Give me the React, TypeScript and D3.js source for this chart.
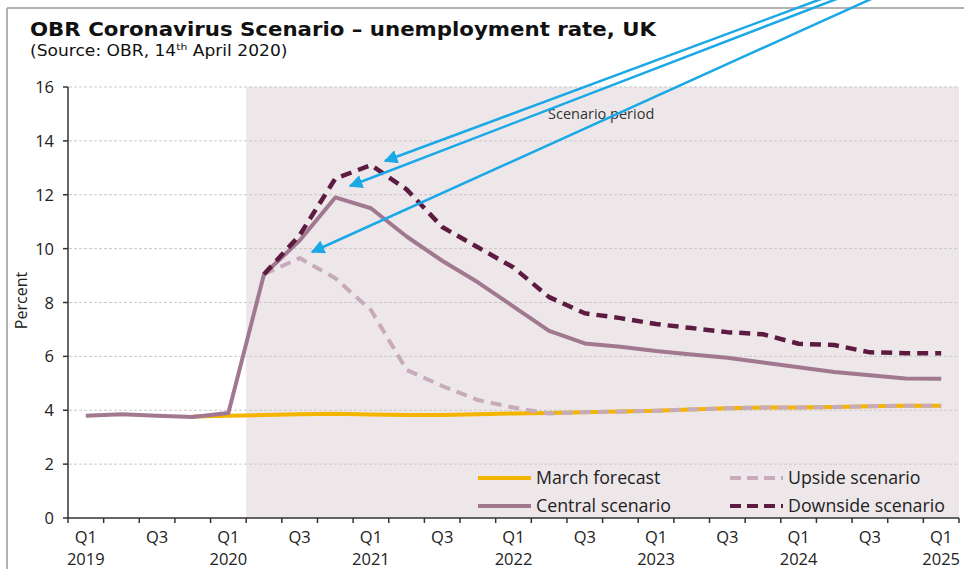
import React from "react";
import * as d3 from "d3";

const quarters = [
  "2019Q1","2019Q2","2019Q3","2019Q4",
  "2020Q1","2020Q2","2020Q3","2020Q4",
  "2021Q1","2021Q2","2021Q3","2021Q4",
  "2022Q1","2022Q2","2022Q3","2022Q4",
  "2023Q1","2023Q2","2023Q3","2023Q4",
  "2024Q1","2024Q2","2024Q3","2024Q4",
  "2025Q1",
];
const tickLabels = [
  ["Q1","2019"],["",""],["Q3",""],["",""],
  ["Q1","2020"],["",""],["Q3",""],["",""],
  ["Q1","2021"],["",""],["Q3",""],["",""],
  ["Q1","2022"],["",""],["Q3",""],["",""],
  ["Q1","2023"],["",""],["Q3",""],["",""],
  ["Q1","2024"],["",""],["Q3",""],["",""],
  ["Q1","2025"],
];
const yTicks = [0, 2, 4, 6, 8, 10, 12, 14, 16];

// values (null = no data)
const marchForecast: (number | null)[] = [
  null, null, null, 3.77, 3.8, 3.82, 3.85, 3.87, 3.84, 3.82, 3.82, 3.85, 3.88,
  3.9, 3.93, 3.95, 3.98, 4.03, 4.07, 4.1, 4.1, 4.12, 4.15, 4.17, 4.17,
];
const centralScenario: (number | null)[] = [
  3.8, 3.85, 3.8, 3.75, 3.9, 9.05, 10.3, 11.9, 11.5, 10.45, 9.55, 8.75, 7.85,
  6.95, 6.48, 6.36, 6.2, 6.07, 5.95, 5.77, 5.6, 5.42, 5.3, 5.18, 5.17,
];
const upsideScenario: (number | null)[] = [
  null, null, null, null, null, 9.05, 9.65, 8.9, 7.72, 5.5, 4.9, 4.38, 4.1,
  3.88, 3.93, 3.95, 3.98, 4.03, 4.07, 4.1, 4.1, 4.12, 4.15, 4.17, 4.17,
];
const downsideScenario: (number | null)[] = [
  null, null, null, null, null, 9.05, 10.5, 12.6, 13.1, 12.2, 10.8, 10.05, 9.3,
  8.2, 7.6, 7.42, 7.2, 7.05, 6.9, 6.82, 6.47, 6.42, 6.15, 6.12, 6.12,
];

const seriesNames = ["March forecast", "Central scenario", "Upside scenario", "Downside scenario"];

const W = 964;
const H = 569;
const fontAxis = "'Open Sans', Lato, sans-serif";
const fontTitle = "'DejaVu Sans', Verdana, sans-serif";

export default function App() {
  const x = d3.scaleBand<string>().domain(quarters).range([68, 959]);
  const y = d3.scaleLinear().domain([0, 16]).range([518, 87]);
  const cx = (i: number) => (x(quarters[i]) as number) + x.bandwidth() / 2;

  const line = d3
    .line<number | null>()
    .defined((d) => d !== null)
    .x((_, i) => cx(i))
    .y((d) => y(d as number));

  const series = [
    { name: seriesNames[0], data: marchForecast, color: "#F5B400", dash: "", width: 4 },
    { name: seriesNames[2], data: upsideScenario, color: "#C7ABBA", dash: "11 7", width: 4 },
    { name: seriesNames[1], data: centralScenario, color: "#A17890", dash: "", width: 4 },
    { name: seriesNames[3], data: downsideScenario, color: "#5E1B42", dash: "11 7", width: 4.5 },
  ];

  const scenarioStart = x(quarters[5]) as number;
  const plotRight = 959;

  const arrows = [
    { x1: 832, y1: -5, x2: 385, y2: 161 },
    { x1: 847, y1: -5, x2: 350, y2: 186 },
    { x1: 880, y1: -5, x2: 312, y2: 252 },
  ];

  const legend = [
    { label: seriesNames[0], color: "#F5B400", dash: "", lx: 478, ly: 478 },
    { label: seriesNames[1], color: "#A17890", dash: "", lx: 478, ly: 506 },
    { label: seriesNames[2], color: "#C7ABBA", dash: "11 6", lx: 730, ly: 478 },
    { label: seriesNames[3], color: "#5E1B42", dash: "11 6", lx: 730, ly: 506 },
  ];

  return (
    <svg width={W} height={H} style={{ position: "absolute", left: 0, top: 0, background: "#fff" }}>
      <defs>
        <marker id="ah" viewBox="0 0 10 10" refX="9" refY="5" markerWidth="5.5" markerHeight="5.5" orient="auto">
          <path d="M0,0 L10,5 L0,10 z" fill="#1BA8E6" />
        </marker>
      </defs>
      {/* frame */}
      <line x1={7} y1={8} x2={W} y2={8} stroke="#9a9a9a" strokeWidth={1.5} />
      <line x1={7} y1={8} x2={7} y2={H} stroke="#9a9a9a" strokeWidth={1.5} />

      {/* title */}
      <g transform="translate(30,36) scale(1.065,1)">
        <text x={0} y={0} fontFamily={fontTitle} fontWeight="bold" fontSize={20} fill="#111">
          OBR Coronavirus Scenario – unemployment rate, UK
        </text>
      </g>
      <g transform="translate(30,56) scale(1.14,1)">
        <text x={0} y={0} fontFamily={fontTitle} fontSize={15} fill="#111">
          (Source: OBR, 14<tspan fontSize={9.5} dy={-6}>th</tspan><tspan dy={6}> April 2020)</tspan>
        </text>
      </g>

      {/* scenario shading */}
      <rect x={scenarioStart} y={y(16)} width={plotRight - scenarioStart} height={y(0) - y(16)} fill="#EDE7EA" />

      {/* gridlines */}
      {yTicks.filter((t) => t > 0).map((t) => (
        <line key={t} x1={69} x2={plotRight} y1={y(t)} y2={y(t)} stroke="#c9c9c9" strokeWidth={1} strokeDasharray="3 2" />
      ))}

      <text x={548} y={119} fontFamily={fontAxis} fontSize={14.5} fill="#333">Scenario period</text>

      {/* series lines */}
      {series.map((s) => (
        <path
          key={s.name}
          d={line(s.data) || ""}
          fill="none"
          stroke={s.color}
          strokeWidth={s.width}
          strokeDasharray={s.dash || undefined}
          strokeLinejoin="round"
        />
      ))}

      {/* legend */}
      {legend.map((l) => (
        <g key={l.label}>
          <line x1={l.lx} x2={l.lx + 53} y1={l.ly} y2={l.ly} stroke={l.color} strokeWidth={4} strokeDasharray={l.dash || undefined} />
          <text x={l.lx + 58} y={l.ly + 6} fontFamily={fontAxis} fontSize={17.8} fill="#222">{l.label}</text>
        </g>
      ))}

      {/* axes */}
      <line x1={68} x2={68} y1={y(16)} y2={y(0)} stroke="#333" strokeWidth={1.5} />
      <line x1={68} x2={plotRight} y1={y(0)} y2={y(0)} stroke="#333" strokeWidth={1.5} />
      {yTicks.map((t) => (
        <g key={t}>
          <line x1={63} x2={68} y1={y(t)} y2={y(t)} stroke="#333" strokeWidth={1.5} />
          <text x={54} y={y(t) + 6} textAnchor="end" fontFamily={fontAxis} fontSize={16.5} fill="#222">{t}</text>
        </g>
      ))}
      {quarters.map((q) => (
        <line key={q} x1={x(q) as number} x2={x(q) as number} y1={y(0)} y2={y(0) + 5} stroke="#333" strokeWidth={1.5} />
      ))}
      <line x1={plotRight} x2={plotRight} y1={y(0)} y2={y(0) + 5} stroke="#333" strokeWidth={1.5} />
      {tickLabels.map((tl, i) => (
        <g key={i}>
          {tl[0] && (
            <text x={cx(i)} y={543} textAnchor="middle" fontFamily={fontAxis} fontSize={16.5} fill="#222">{tl[0]}</text>
          )}
          {tl[1] && (
            <text x={cx(i)} y={565} textAnchor="middle" fontFamily={fontAxis} fontSize={16.5} fill="#222">{tl[1]}</text>
          )}
        </g>
      ))}
      <text transform={`translate(27,${y(8) - 2}) rotate(-90)`} textAnchor="middle" fontFamily={fontAxis} fontSize={16} fill="#222">Percent</text>

      {/* arrows */}
      {arrows.map((a, i) => (
        <line key={i} x1={a.x1} y1={a.y1} x2={a.x2} y2={a.y2} stroke="#1BA8E6" strokeWidth={2.5} markerEnd="url(#ah)" />
      ))}
    </svg>
  );
}
